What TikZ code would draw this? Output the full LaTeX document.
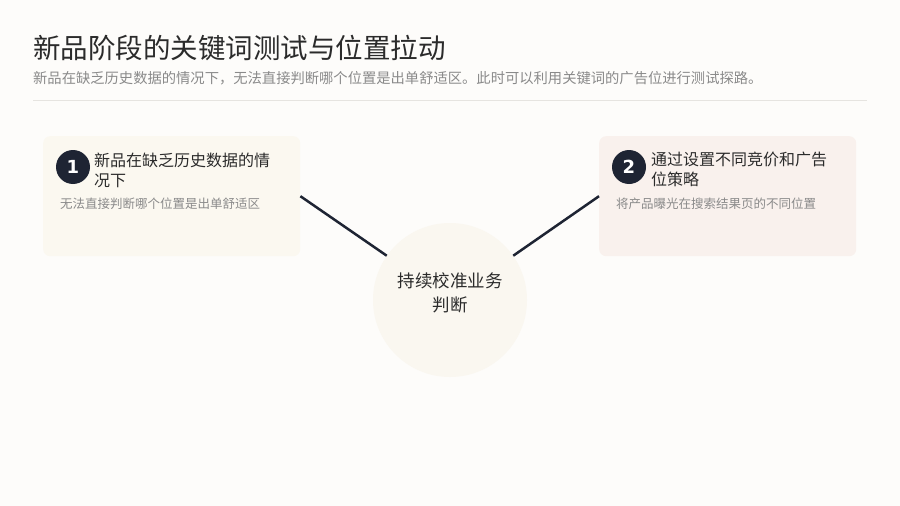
\documentclass[tikz,border=0pt]{standalone}
\usepackage{fontspec}
\usepackage{tikz}
\usetikzlibrary{calc,positioning}
\setmainfont{Noto Sans CJK SC}
\newfontfamily\numfont{DejaVu Sans}
\definecolor{mybg}{HTML}{FDFCFA}
\definecolor{mynavy}{HTML}{1E2433}
\definecolor{mygray}{HTML}{8A8A8A}
\definecolor{mytext}{HTML}{2B2B2B}
\definecolor{mycream}{HTML}{FBF8F0}
\definecolor{mypink}{HTML}{F9F1ED}
\definecolor{myhub}{HTML}{FAF7F0}
\definecolor{myrule}{HTML}{E6E4E0}

\begin{document}
\begin{tikzpicture}[
  x=1pt, y=-1pt,
  mycard/.style={
    rounded corners=7pt,
    fill=#1,
    minimum width=257pt,
    minimum height=120pt,
    anchor=north west
    },
  mybadge/.style={
    circle,
    fill=mynavy,
    text=white,
    minimum size=34pt,
    inner sep=0pt,
    font=\numfont\bfseries\fontsize{18}{18}\selectfont
    },
  myhead/.style={
    anchor=north west,
    inner sep=0pt,
    align=left,
    text=mytext,
    font=\fontsize{16}{20}\selectfont
    },
  mynote/.style={
    anchor=west,
    inner sep=0pt,
    text=mygray,
    font=\fontsize{12.5}{15}\selectfont
    },
  mylink/.style={
    draw=mynavy,
    line width=2.5pt
  }
]

\useasboundingbox[fill=mybg] (0,0) rectangle (900,506);

% header
\node[anchor=west, inner sep=0pt, text=mytext, font=\fontsize{27.5}{30}\selectfont]
  (title) at (33,48) {新品阶段的关键词测试与位置拉动};
\node[anchor=west, inner sep=0pt, text=mygray, font=\fontsize{14.3}{17}\selectfont]
  (subtitle) at (33,78) {新品在缺乏历史数据的情况下，无法直接判断哪个位置是出单舒适区。此时可以利用关键词的广告位进行测试探路。};
\draw[myrule, line width=1pt] (33,100) -- (867,100);

% cards
\node[mycard=mycream] (card1) at (43,136) {};
\node[mycard=mypink] (card2) at (599,136) {};

\node[mybadge] (badge1) at (73,167) {1};
\node[myhead] (head1) at (94,153) {新品在缺乏历史数据的情\\况下};
\node[mynote] (note1) at (60,204) {无法直接判断哪个位置是出单舒适区};

\node[mybadge] (badge2) at (629,167) {2};
\node[myhead] (head2) at (651,152) {通过设置不同竞价和广告\\位策略};
\node[mynote] (note2) at (616,204) {将产品曝光在搜索结果页的不同位置};

% hub
\node[circle, fill=myhub, minimum size=154pt, inner sep=0pt] (hub) at (450,300) {};
\node[align=center, text=mytext, font=\fontsize{17.5}{24}\selectfont]
  (hubtext) at (450,293) {持续校准业务\\判断};

\draw[mylink] (card1.east) -- (hub.145);
\draw[mylink] (card2.west) -- (hub.35);

\end{tikzpicture}
\end{document}
